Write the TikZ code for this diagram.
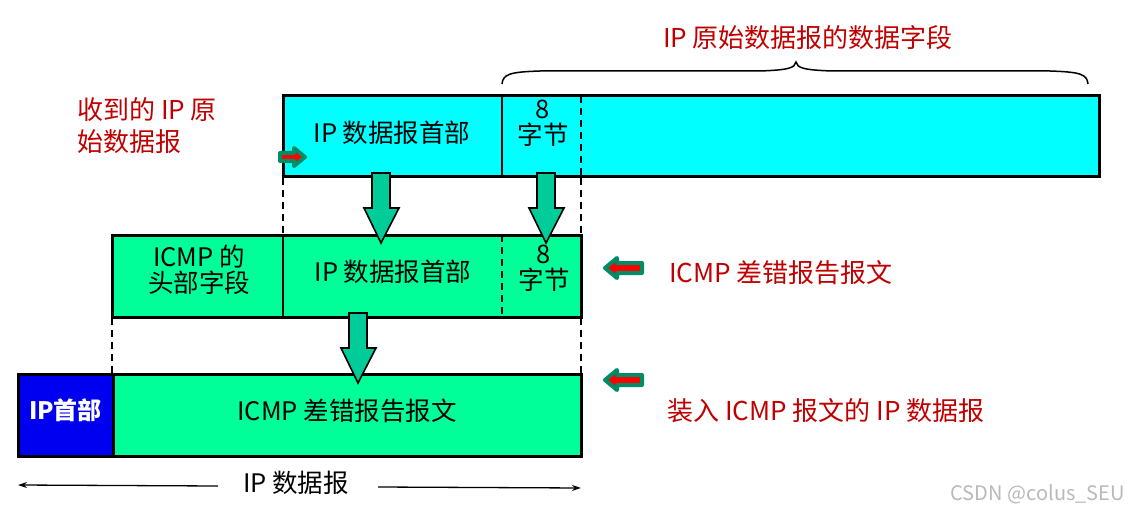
\documentclass[tikz,border=0pt]{standalone}
\usepackage{fontspec}
\usetikzlibrary{arrows.meta}
\setmainfont{Noto Sans CJK SC}
\begin{document}
\begin{tikzpicture}[x=1pt,y=-1pt,
  box/.style={draw=black,line width=3pt,inner sep=0pt,outer sep=0pt},
  sep/.style={line width=2pt},
  dsep/.style={line width=2pt,dash pattern=on 7pt off 5pt},
  txt/.style={font=\fontsize{25.5}{26}\selectfont,align=center,inner sep=0pt},
  rtxt/.style={font=\fontsize{26}{32}\selectfont,text=redt,inner sep=0pt},
  bigarrow/.style={draw=black,line width=1.6pt,fill=arrowg,line join=miter},
  smallarrow/.style={draw=darkg,line width=4pt,fill=red,line join=round}]
\definecolor{cyanb}{RGB}{0,255,255}
\definecolor{greenb}{RGB}{0,255,153}
\definecolor{arrowg}{RGB}{0,204,153}
\definecolor{blueb}{RGB}{0,0,240}
\definecolor{redt}{RGB}{192,0,0}
\definecolor{darkg}{RGB}{0,140,100}
\useasboundingbox (0,0) rectangle (1129,513);

% top box
\node[box,fill=cyanb,minimum width=816pt,minimum height=81pt] (top) at (691,136.5) {};
\draw[sep] (502,96) -- (502,177);
\draw[dsep] (581,96) -- (581,177);
\node[txt] (t1) at (392,133) {IP 数据报首部};
\node[txt] (t2) at (543,123) {8\\字节};

% dashed guides
\draw[dsep] (283,178) -- (283,235);
\draw[dsep] (581,178) -- (581,235);
\draw[dsep] (112,318) -- (112,374);
\draw[dsep] (581,318) -- (581,374);

% middle box
\node[box,fill=greenb,minimum width=469pt,minimum height=82pt] (mid) at (346.5,276) {};
\draw[sep] (283,235) -- (283,317);
\draw[dsep] (502,235) -- (502,317);
\node[txt] (m1) at (199,270) {ICMP 的\\头部字段};
\node[txt] (m2) at (393,272) {IP 数据报首部};
\node[txt] (m3) at (544,268) {8\\字节};

% bottom box
\node[box,fill=greenb,minimum width=563pt,minimum height=82pt] (bot) at (299.5,415) {};
\node[box,fill=blueb,minimum width=95pt,minimum height=82pt] (iph) at (65.5,415) {};
\node[txt,text=white,font=\fontsize{24}{27}\selectfont\bfseries] (b1) at (65.5,410) {IP首部};
\node[txt] (b2) at (347,411) {ICMP 差错报告报文};

% big arrows
\draw[bigarrow] (372,173) -- (390,173) -- (390,208) -- (399,208) -- (381,243) -- (364,208) -- (372,208) -- cycle;
\draw[bigarrow] (537,173) -- (555,173) -- (555,208) -- (564,208) -- (546,243) -- (529,208) -- (537,208) -- cycle;
\draw[bigarrow] (349,313) -- (367,313) -- (367,348) -- (376,348) -- (358,383) -- (341,348) -- (349,348) -- cycle;

% small arrows
\draw[smallarrow] (280,153) -- (294,153) -- (294,148) -- (305,157) -- (294,166) -- (294,161) -- (280,161) -- cycle;
\draw[smallarrow] (642,263) -- (617,263) -- (617,258) -- (605,268) -- (617,278) -- (617,273) -- (642,273) -- cycle;
\draw[smallarrow] (642,375) -- (617,375) -- (617,370) -- (605,380) -- (617,390) -- (617,385) -- (642,385) -- cycle;

% labels
\node[rtxt,anchor=west,align=left] (l1) at (77,126) {收到的 IP 原\\始数据报};
\node[rtxt,anchor=west] (l2) at (669,273) {ICMP 差错报告报文};
\node[rtxt,anchor=west] (l3) at (667,411) {装入 ICMP 报文的 IP 数据报};
\node[rtxt] (l4) at (808,38) {IP 原始数据报的数据字段};

% brace
\draw[line width=1.5pt] (502,84) .. controls (503,74) and (510,72) .. (540,71) -- (760,71) .. controls (788,70) and (795,68) .. (796,62) .. controls (797,68) and (804,70) .. (832,71) -- (1050,71) .. controls (1080,72) and (1087,74) .. (1088,84);

% bottom dimension
\node[txt] (dim) at (296,483) {IP 数据报};
\coordinate (dl) at (18,485);
\coordinate (dr) at (581,488);
\coordinate (dls) at (218,486);
\coordinate (drs) at (378,487);
\draw[line width=1.3pt,-{Stealth[length=9pt,width=6pt]}] (dls) -- (dl);
\draw[line width=1.3pt,-{Stealth[length=9pt,width=6pt]}] (drs) -- (dr);

% watermark
\node[font=\fontsize{20}{22}\selectfont,text=gray!55,anchor=east,inner sep=0pt] (wm) at (1125,494) {CSDN @colus\_SEU};
\end{tikzpicture}
\end{document}
